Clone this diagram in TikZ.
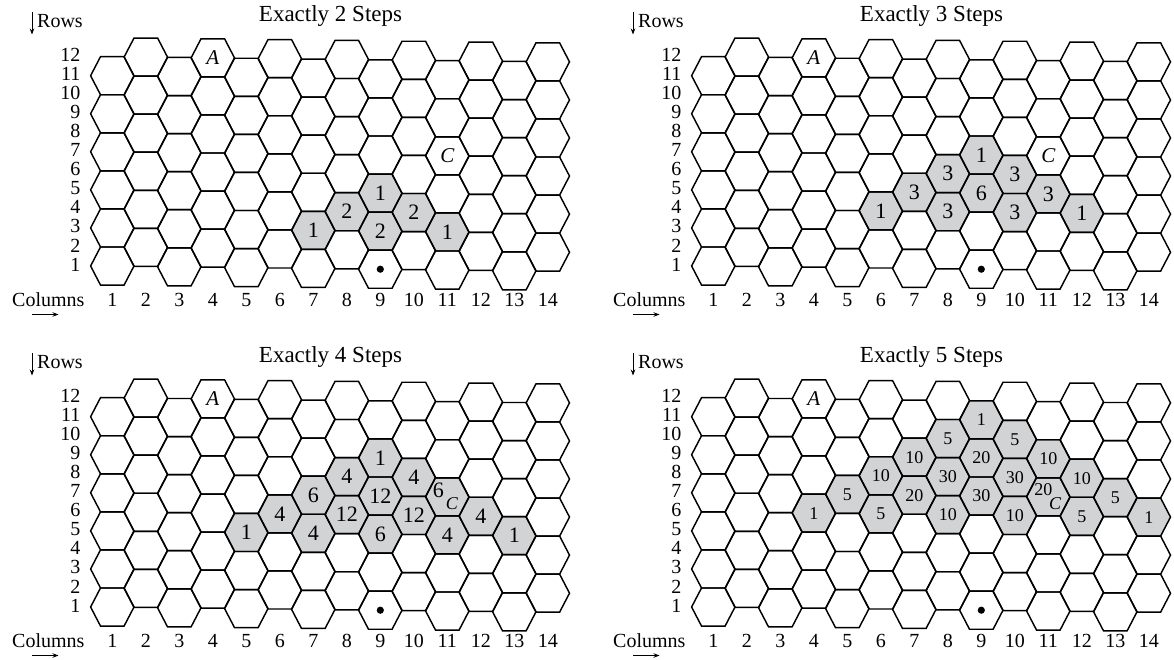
\documentclass[tikz,border=0pt]{standalone}
\usepackage{fontspec}
\setmainfont{Liberation Serif}
\usetikzlibrary{arrows.meta}
\definecolor{cellgray}{RGB}{210,211,213}
\tikzset{
 hexedge/.style={draw=black,line width=1.45pt,line join=miter},
 hexfill/.style={fill=cellgray},
 ttl/.style={font=\fontsize{23}{23}\selectfont,inner sep=0pt,anchor=base},
 axislbl/.style={font=\fontsize{20}{20}\selectfont,inner sep=0pt},
 bignum/.style={font=\fontsize{22}{22}\selectfont,inner sep=0pt},
 smallnum/.style={font=\fontsize{18}{18}\selectfont,inner sep=0pt},
 letter/.style={font=\fontsize{21}{21}\selectfont\itshape,inner sep=0pt},
 smallletter/.style={font=\fontsize{18}{18}\selectfont\itshape,inner sep=0pt},
 axisarrow/.style={line width=0.8pt,-{Stealth[length=6pt,width=4.5pt]}},
}
\newcommand\hexcenter[2]{%
  \pgfmathsetmacro\hx{112.3+(#1-1)*33.5}%
  \pgfmathsetmacro\hy{266-19.03*(#2-1)+0.4*(#1-1)}%
}
\newcommand\hexshape[1]{%
  \path[#1] (\hx-21.7,\hy) -- (\hx-11.8,\hy-19.03) -- (\hx+11.8,\hy-19.03)
    -- (\hx+21.7,\hy) -- (\hx+11.8,\hy+19.03) -- (\hx-11.8,\hy+19.03) -- cycle;
}
% #1 prefix, #2 title, #3 cells c/r/v, #4 number style
\newcommand\hexpanel[4]{%
  \foreach \c/\r/\v in {#3} {\hexcenter{\c}{\r}\hexshape{hexfill}}
  \foreach \c in {1,...,14} {
    \pgfmathtruncatemacro\rs{2-mod(\c,2)}
    \foreach \k in {0,...,5} {
      \pgfmathtruncatemacro\rr{\rs+2*\k}
      \hexcenter{\c}{\rr}\hexshape{hexedge}
    }
  }
  \foreach \c/\r/\v in {#3} {\hexcenter{\c}{\r}\node[#4] (#1-\c-\r) at (\hx,\hy) {\v};}
  \node[ttl] (#1-title) at (330.5,21) {#2};
  \node[axislbl,anchor=base west] (#1-rows) at (37,27.5) {Rows};
  \coordinate (#1-ra) at (32,12);
  \coordinate (#1-rb) at (32,34.5);
  \draw[axisarrow] (#1-ra) -- (#1-rb);
  \foreach \r in {1,...,12} {\node[axislbl,anchor=east] (#1-rl\r) at (80.5,{264.5-19.1*(\r-1)}) {\r};}
  \node[axislbl,anchor=base west] (#1-cols) at (12,306.5) {Columns};
  \foreach \c in {1,...,14} {\node[axislbl,anchor=base] (#1-cl\c) at ({112.3+(\c-1)*33.5},306.5) {\c};}
  \coordinate (#1-ca) at (32,314.5);
  \coordinate (#1-cb) at (58.5,314.5);
  \draw[axisarrow] (#1-ca) -- (#1-cb);
  \hexcenter{4}{12}\node[letter] (#1-A) at (\hx,\hy) {A};
  \hexcenter{9}{1}\fill (\hx,\hy) circle[radius=3.6pt];
}
\begin{document}
\begin{tikzpicture}[x=1pt,y=-1pt]
\useasboundingbox (0,0) rectangle (1174,659);
\begin{scope}
  \hexpanel{p1}{Exactly 2 Steps}{7/3/1,8/4/2,9/5/1,9/3/2,10/4/2,11/3/1}{bignum}
  \hexcenter{11}{7}\node[letter] (p1-C) at (\hx,\hy) {C};
\end{scope}
\begin{scope}[shift={(601,0)}]
  \hexpanel{p2}{Exactly 3 Steps}{6/4/1,7/5/3,8/6/3,8/4/3,9/7/1,9/5/6,10/6/3,10/4/3,11/5/3,12/4/1}{bignum}
  \hexcenter{11}{7}\node[letter] (p2-C) at (\hx,\hy) {C};
\end{scope}
\begin{scope}[shift={(0,341)}]
  \hexpanel{p3}{Exactly 4 Steps}{5/5/1,6/6/4,7/7/6,7/5/4,8/8/4,8/6/12,9/9/1,9/7/12,9/5/6,10/8/4,10/6/12,11/7/{},11/5/4,12/6/4,13/5/1}{bignum}
  \hexcenter{11}{7}
  \node[bignum] (p3-C6) at (\hx-9,\hy-7) {6};
  \node[smallletter] (p3-C) at (\hx+4.5,\hy+6.5) {C};
\end{scope}
\begin{scope}[shift={(601,341)}]
  \hexpanel{p4}{Exactly 5 Steps}{4/6/1,5/7/5,6/8/10,6/6/5,7/9/10,7/7/20,8/10/5,8/8/30,8/6/10,9/11/1,9/9/20,9/7/30,10/10/5,10/8/30,10/6/10,11/9/10,11/7/{},12/8/10,12/6/5,13/7/5,14/6/1}{smallnum}
  \hexcenter{11}{7}
  \node[smallnum] (p4-C20) at (\hx-5,\hy-7) {20};
  \node[smallletter] (p4-C) at (\hx+6.7,\hy+6.5) {C};
\end{scope}
\end{tikzpicture}
\end{document}
